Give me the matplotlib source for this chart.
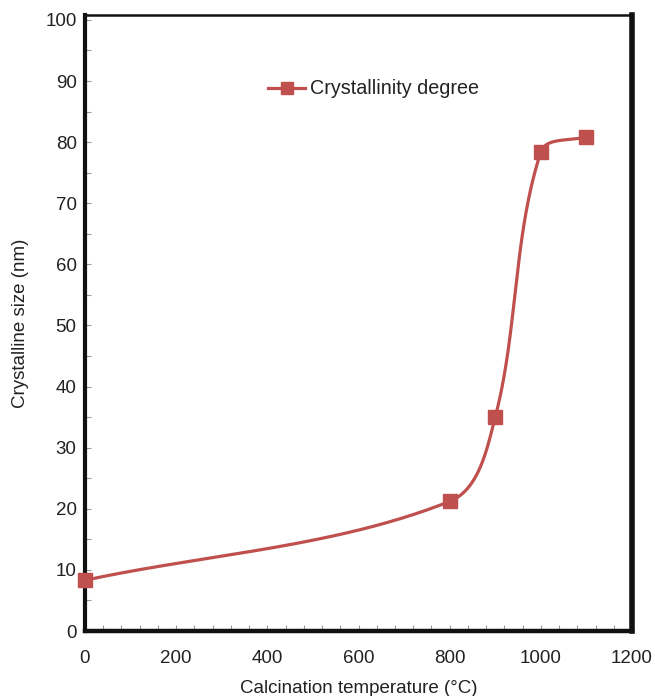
import numpy as np
import matplotlib
matplotlib.use("Agg")
import matplotlib.pyplot as plt

plt.rcParams['font.family'] = ['Liberation Sans', 'DejaVu Sans']

# data
temperature = [0, 800, 900, 1000, 1100]
crystal_size = [8.3, 21.2, 35.0, 78.4, 80.9]

line_color = '#C0504D'
text_color = '#222222'


def smooth_curve(xs, ys, sx, sy, n=80):
    # Excel-like smoothed line: Bezier segments, tangent length tied to segment length
    pts = np.column_stack([np.array(xs, float) * sx, np.array(ys, float) * sy])
    out = []
    for i in range(len(pts) - 1):
        p0 = pts[i - 1] if i > 0 else pts[i]
        p1 = pts[i]
        p2 = pts[i + 1]
        p3 = pts[i + 2] if i + 2 < len(pts) else pts[i + 1]
        seg_len = np.linalg.norm(p2 - p1)
        d1 = (p2 - p0) / np.linalg.norm(p2 - p0)
        d2 = (p3 - p1) / np.linalg.norm(p3 - p1)
        c1 = p1 + d1 * seg_len / 3.0
        c2 = p2 - d2 * seg_len / 3.0
        t = np.linspace(0, 1, n)[:, None]
        seg = ((1 - t) ** 3) * p1 + 3 * ((1 - t) ** 2) * t * c1 + 3 * (1 - t) * t ** 2 * c2 + t ** 3 * p2
        out.append(seg)
    curve = np.vstack(out)
    return curve[:, 0] / sx, curve[:, 1] / sy


fig = plt.figure(figsize=(6.55, 6.96), dpi=100)
ax = fig.add_axes([85 / 655, 65 / 696, 547 / 655, 616 / 696])

cx, cy = smooth_curve(temperature, crystal_size, 547 / 1200, 616 / 100.8)
ax.plot(cx, cy, color=line_color, lw=2.3, solid_capstyle='round', zorder=3)
ax.plot(temperature, crystal_size, ls='none', marker='s', ms=9.5,
        color=line_color, zorder=4, clip_on=False)
# legend proxy
ax.plot([], [], color=line_color, lw=2.3, marker='s', ms=8.5, label='Crystallinity degree')

ax.set_xlim(0, 1200)
ax.set_ylim(0, 100.8)
ax.set_xticks(np.arange(0, 1201, 200))
ax.set_yticks(np.arange(0, 101, 10))
ax.set_xticks(np.arange(0, 1201, 40), minor=True)
ax.set_yticks(np.arange(0, 101, 5), minor=True)
ax.tick_params(which='both', direction='in', color='#999999', width=0.8, length=4)
ax.tick_params(axis='x', which='major', pad=14, labelsize=13.5, labelcolor=text_color)
ax.tick_params(axis='y', which='major', pad=6, labelsize=13.5, labelcolor=text_color)

for side, w in [('left', 3.0), ('bottom', 3.2), ('right', 4.0), ('top', 1.8)]:
    ax.spines[side].set_linewidth(w)
    ax.spines[side].set_color('#111111')

ax.set_xlabel('Calcination temperature (°C)', fontsize=13.5, color=text_color, labelpad=9)
ax.set_ylabel('Crystalline size (nm)', fontsize=13.5, color=text_color, labelpad=12)

leg = ax.legend(loc='center left', bbox_to_anchor=((268 - 85) / 547, (631 - 89) / 616),
                frameon=False, fontsize=14.2, handlelength=1.9, handletextpad=0.25,
                borderpad=0, borderaxespad=0)
for t in leg.get_texts():
    t.set_color(text_color)

fig.savefig('out.png', dpi=100)
